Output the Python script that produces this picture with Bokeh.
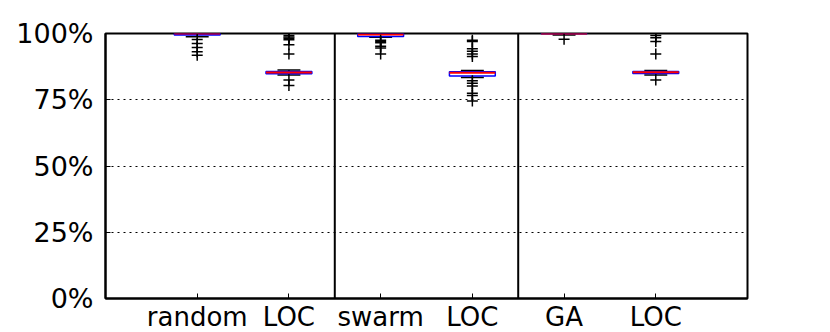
from bokeh.plotting import figure
from bokeh.models import Range1d, FixedTicker, NumeralTickFormatter, Span
from bokeh.embed import file_html
from bokeh.resources import INLINE

labels = ["random", "LOC", "swarm", "LOC", "GA", "LOC"]
positions = [1, 2, 3, 4, 5, 6]
q1 = [0.994, 0.848, 0.989, 0.840, 0.999, 0.849]
med = [1.000, 0.853, 0.996, 0.852, 1.000, 0.854]
q3 = [1.000, 0.857, 1.000, 0.856, 1.000, 0.857]
whisk_lo = [0.988, 0.843, 0.986, 0.834, 0.994, 0.843]
whisk_hi = [1.000, 0.862, 1.000, 0.860, 1.000, 0.860]
fliers = [
    [0.977, 0.962, 0.947, 0.931, 0.918],
    [0.992, 0.987, 0.982, 0.976, 0.958, 0.923, 0.825, 0.804],
    [0.975, 0.970, 0.965, 0.952, 0.945, 0.923],
    [0.975, 0.970, 0.942, 0.933, 0.923, 0.913,
     0.822, 0.812, 0.802, 0.775, 0.766, 0.745],
    [0.978],
    [0.992, 0.984, 0.970, 0.923, 0.825],
]
dividers = [2.5, 4.5]
yticks = [0, 0.25, 0.5, 0.75, 1.0]

FONT = "DejaVu Sans"

p = figure(frame_width=642, frame_height=265, output_backend="svg",
           toolbar_location=None, x_range=Range1d(0, 7), y_range=Range1d(0, 1))
p.min_border_left = 105
p.min_border_right = 75
p.min_border_top = 33
p.min_border_bottom = 0
p.outline_line_color = "black"
p.outline_line_width = 2
p.outline_line_alpha = 1
p.background_fill_color = "white"
p.border_fill_color = "white"

p.xgrid.grid_line_color = None
p.ygrid.grid_line_color = "black"
p.ygrid.grid_line_dash = "2 4"
p.ygrid.grid_line_width = 1.2
p.ygrid.ticker = FixedTicker(ticks=yticks)

p.yaxis.ticker = FixedTicker(ticks=yticks)
p.yaxis.formatter = NumeralTickFormatter(format="0%")
p.xaxis.ticker = FixedTicker(ticks=positions)
p.xaxis.major_label_overrides = {pos: lab for pos, lab in zip(positions, labels)}

for ax in (p.xaxis[0], p.yaxis[0]):
    ax.axis_line_color = "black"
    ax.axis_line_width = 2
    ax.major_tick_in = 5
    ax.major_tick_out = 0
    ax.minor_tick_line_color = None
    ax.major_tick_line_color = "black"
    ax.major_tick_line_width = 1
    ax.major_label_text_font = FONT
    ax.major_label_text_color = "black"
p.yaxis.major_label_text_font_size = "27px"
p.xaxis.major_label_text_font_size = "26px"
p.xaxis.major_label_standoff = 3
p.yaxis.major_label_standoff = 12

for d in dividers:
    p.add_layout(Span(location=d, dimension="height", line_color="black", line_width=2))

half = 0.25
cap = 0.125
xs_l = [x - half for x in positions]
xs_r = [x + half for x in positions]

# whiskers
p.segment(positions, q3, positions, whisk_hi, line_color="black", line_width=1.5)
p.segment(positions, q1, positions, whisk_lo, line_color="black", line_width=1.5)
# caps
p.segment([x - cap for x in positions], whisk_lo, [x + cap for x in positions], whisk_lo,
          line_color="black", line_width=1.5)
p.segment([x - cap for x in positions], whisk_hi, [x + cap for x in positions], whisk_hi,
          line_color="black", line_width=1.5)
# boxes
p.quad(left=xs_l, right=xs_r, bottom=q1, top=q3, fill_color=None,
       line_color="blue", line_width=1.5)
# medians
p.segment(xs_l, med, xs_r, med, line_color="red", line_width=2)

# fliers
fx, fy = [], []
for x, fl in zip(positions, fliers):
    for v in fl:
        fx.append(x)
        fy.append(v)
p.scatter(fx, fy, marker="cross", size=11, line_color="black", line_width=1.5)

open("out.html", "w").write(file_html(p, INLINE))
